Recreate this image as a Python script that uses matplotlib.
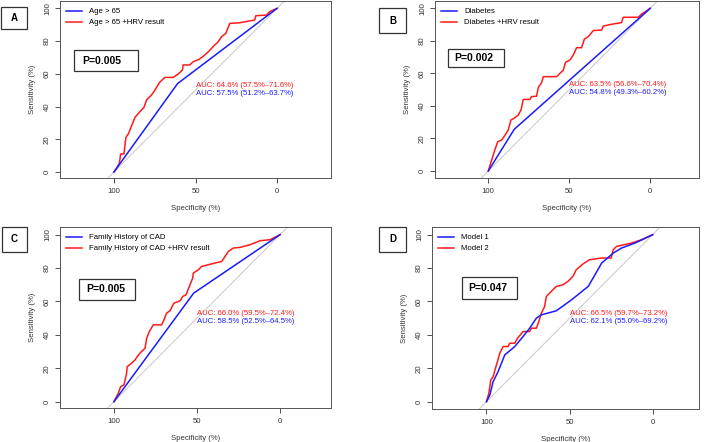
import matplotlib.pyplot as plt
from matplotlib.patches import Rectangle

plt.rcParams['font.family'] = ['Liberation Sans', 'DejaVu Sans']

W, H = 709, 442

# ---- data (specificity %, sensitivity %) ----
# A: Age > 65
a_base_spec = [100, 61, 0]
a_base_sens = [0, 54, 100]
a_hrv_spec = [100, 98.4, 96.7, 95.9, 93.9, 92.7, 91, 89.8, 87.1, 84, 81.6, 80, 77, 74.9,
              72.2, 68.8, 63.7, 60.6, 58, 57.6, 53.5, 51.4, 47.8, 44.3, 41.6, 39.2, 36.1,
              34, 31.4, 29, 22.9, 13.7, 13, 6.5, 4.5, 0]
a_hrv_sens = [0, 2.2, 5.3, 11, 11, 21, 23.6, 26.7, 33.4, 37, 39.5, 44, 47, 50,
              54.6, 57.8, 57.8, 59.9, 62.3, 65.4, 65.4, 67.4, 68.8, 71.5, 74, 76.6, 79.6,
              82.7, 84.7, 90.8, 91.2, 92.9, 95.5, 95.9, 98, 100]

# B: Diabetes
b_base_spec = [100, 84, 0]
b_base_sens = [0, 25.6, 100]
b_hrv_spec = [100, 97.9, 96.3, 94.2, 91.8, 89.7, 87.7, 86, 84, 81.5, 79.8, 78.4, 74.3, 73.3,
              70.2, 69.1, 67.1, 66, 57.8, 55.8, 53.7, 52.3, 49.6, 47.5, 45.5, 42.4, 40.7,
              38.3, 35.2, 30, 29, 23.9, 17.7, 16.7, 7.4, 5.3, 2.9, 0]
b_hrv_sens = [0, 6.8, 11.9, 18, 19, 22, 25.2, 31.4, 32.4, 34.4, 37.5, 44, 44, 45.7,
              46, 51.4, 54.3, 58, 58, 60, 62, 66.8, 68.2, 71.3, 75.8, 75.8, 81,
              82.6, 86.3, 86.7, 89.1, 90.2, 91.2, 94.5, 94.5, 96.5, 98, 100]

# C: Family History of CAD
c_base_spec = [100, 52, 0]
c_base_sens = [0, 65, 100]
c_hrv_spec = [100, 97.4, 96, 94, 92.4, 92, 89.4, 87.3, 86, 84, 81.3, 80.3, 78.7, 76.3, 71.3,
              69.9, 68.3, 66.3, 63.9, 60.2, 58.6, 56.6, 54.6, 52.6, 52.2, 49.2, 47.2, 43.2,
              39.2, 35.1, 33.1, 31.1, 28.1, 24, 18, 12, 6, 2, 0]
c_hrv_sens = [0, 5, 9, 10, 17, 21, 23, 25, 27, 29.4, 32, 38, 42, 46, 46,
              49, 53, 54.4, 59, 60.4, 63, 64, 69, 74, 77, 79, 81, 82,
              83, 84, 87, 90, 92, 92.4, 94, 96.4, 97, 99, 100]

# D: Model 1 vs Model 2
d_base_spec = [100, 98, 96, 93, 89, 83, 78, 74, 70, 67, 58, 48.8, 38.8, 34.7, 30.7, 23.7,
               18.7, 10.6, 0]
d_base_sens = [0, 4, 12, 18, 28, 33, 39, 44, 50, 52, 54.4, 61, 69, 76, 83, 89,
               92, 95, 100]
d_hrv_spec = [100, 98.6, 97.4, 96, 94.6, 93.4, 92, 90, 87, 86, 83, 81.3, 78, 74, 73, 70,
              68.5, 67, 65, 64, 61, 58, 54, 51, 48, 46, 42, 38, 31, 25, 23.7, 21.7,
              12.7, 6.6, 0]
d_hrv_sens = [0, 5, 13, 15, 20, 24, 29, 33, 33, 35, 35, 38, 42, 42, 44, 44,
              48, 53, 57, 63, 66, 69, 70, 72, 75, 79, 82.4, 85, 86, 86, 91, 93,
              95, 97, 100]

letters = ['A', 'B', 'C', 'D']
base_labels = ['Age > 65', 'Diabetes', 'Family History of CAD', 'Model 1']
hrv_labels = ['Age > 65 +HRV result', 'Diabetes +HRV result',
              'Family History of CAD +HRV result', 'Model 2']
p_values = ['P=0.005', 'P=0.002', 'P=0.005', 'P=0.047']
auc_hrv = ['AUC: 64.6% (57.5%\u201371.6%)', 'AUC: 63.5% (56.6%\u201370.4%)',
           'AUC: 66.0% (59.5%\u201372.4%)', 'AUC: 66.5% (59.7%\u201373.2%)']
auc_base = ['AUC: 57.5% (51.2%\u201363.7%)', 'AUC: 54.8% (49.3%\u201360.2%)',
            'AUC: 58.5% (52.5%\u201364.5%)', 'AUC: 62.1% (55.0%\u201369.2%)']

curves = [
    (a_base_spec, a_base_sens, a_hrv_spec, a_hrv_sens),
    (b_base_spec, b_base_sens, b_hrv_spec, b_hrv_sens),
    (c_base_spec, c_base_sens, c_hrv_spec, c_hrv_sens),
    (d_base_spec, d_base_sens, d_hrv_spec, d_hrv_sens),
]

# ---- layout in pixels (left, top, right, bottom) ----
axes_px = [(60, 1, 331, 178), (435, 1, 699, 178), (60, 227, 331, 408), (432, 227, 699, 409)]
xlims = [(133.1, -33.1), (132.9, -30.1), (132.5, -30.7), (132.8, -27.9)]
ylims = [(-3.7, 104.5), (-4.3, 104.5), (-3.8, 104.6), (-4.4, 104.6)]
letter_px = [(1, 7, 27, 29), (379, 8, 406, 33), (2, 227, 27, 252), (379, 227, 406, 252)]
pbox_px = [(74, 50, 138, 71), (448, 49, 504, 67), (79, 279, 135, 300), (462, 277, 517, 299)]
ptext_x = [82, 454, 86, 468]

RED = '#ff1a1a'
BLUE = '#1a1aff'
FS = 5.6


def fig_rect(l, t, r, b):
    return [l / W, 1 - b / H, (r - l) / W, (b - t) / H]


fig = plt.figure(figsize=(W / 100, H / 100), dpi=100)

for i in range(4):
    l, t, r, b = axes_px[i]
    ax = fig.add_axes(fig_rect(l, t, r, b))
    bs, bsn, hs, hsn = curves[i]

    ax.axline((100, 0), (0, 100), color='#c8c8c8', lw=0.7, zorder=1)
    ax.plot(bs, bsn, color=BLUE, lw=1.1, label=base_labels[i], zorder=3)
    ax.plot(hs, hsn, color=RED, lw=1.1, label=hrv_labels[i], zorder=2)

    ax.set_xlim(*xlims[i])
    ax.set_ylim(*ylims[i])
    ax.set_xticks([100, 50, 0])
    ax.set_yticks([0, 20, 40, 60, 80, 100])
    ax.set_yticklabels(['0', '20', '40', '60', '80', '100'], rotation=90, va='center')
    ax.tick_params(labelsize=FS, length=3.5, width=0.6, colors='#333333')
    ax.tick_params(axis='x', pad=4)
    ax.tick_params(axis='y', pad=3)
    for s in ax.spines.values():
        s.set_color('#555555')
        s.set_linewidth(0.7)
    ax.set_xlabel('Specificity (%)', fontsize=FS, color='#333333', labelpad=7)
    ax.set_ylabel('Sensitivity (%)', fontsize=FS, color='#333333', labelpad=6)

    ax.text(50, 53, auc_hrv[i], color=RED, fontsize=FS, ha='left', va='center')
    ax.text(50, 48, auc_base[i], color=BLUE, fontsize=FS, ha='left', va='center')

    w_px, h_px = r - l, b - t
    ax.legend(loc='upper left', bbox_to_anchor=(6 / w_px, 1 - 7 / h_px), frameon=False,
              fontsize=FS, handlelength=2.1, handletextpad=0.9, labelspacing=0.45,
              borderaxespad=0, borderpad=0)

    # panel letter
    ll, lt, lr, lb = letter_px[i]
    fig.patches.append(Rectangle((ll / W, 1 - lb / H), (lr - ll) / W, (lb - lt) / H,
                                 transform=fig.transFigure, fill=False,
                                 edgecolor='#333333', lw=0.9))
    fig.text((ll + lr) / 2 / W, 1 - (lt + lb) / 2 / H, letters[i], fontsize=7,
             fontweight='bold', ha='center', va='center')

    # p-value box
    pl, pt, pr, pb = pbox_px[i]
    fig.patches.append(Rectangle((pl / W, 1 - pb / H), (pr - pl) / W, (pb - pt) / H,
                                 transform=fig.transFigure, fill=False,
                                 edgecolor='#333333', lw=0.9))
    fig.text(ptext_x[i] / W, 1 - (pt + pb) / 2 / H, p_values[i], fontsize=7.5,
             fontweight='bold', ha='left', va='center')

fig.savefig('out.png', dpi=100)
